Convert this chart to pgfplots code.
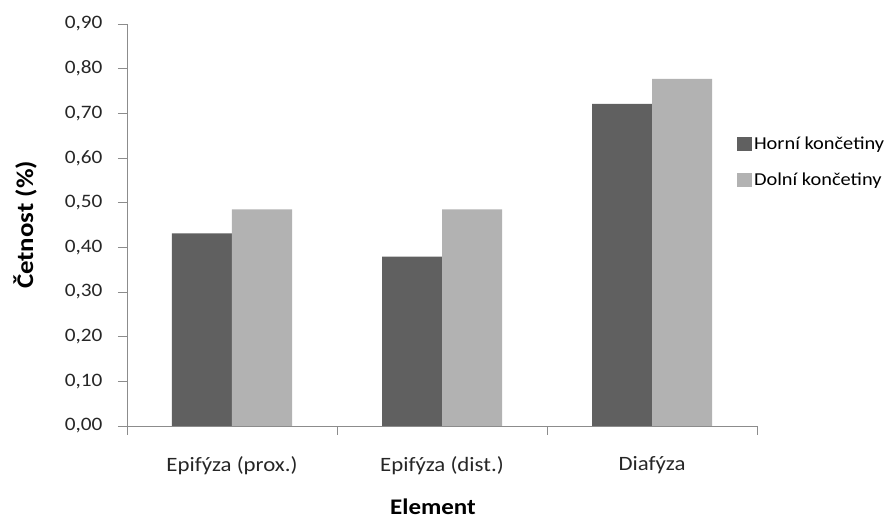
\documentclass[border=0pt]{standalone}
\usepackage{pgfplots}
\pgfplotsset{compat=1.18}
\usepackage{fontspec}
\setmainfont[FakeStretch=1.12]{Carlito}
\definecolor{horni}{HTML}{606060}
\definecolor{dolni}{HTML}{B2B2B2}
\definecolor{axisgray}{HTML}{8C8C8C}
\begin{document}
\begin{tikzpicture}
\begin{axis}[
  at={(127pt,98pt)}, anchor=south west,
  width=630pt, height=402pt, scale only axis,
  ybar=0pt, bar width=60pt,
  xmin=-0.5, xmax=2.5, ymin=0, ymax=0.9,
  axis lines*=left,
  axis line style={draw=axisgray, line width=0.8pt},
  tick style={draw=axisgray, line width=0.8pt},
  tick align=outside,
  major tick length=9pt,
  xtick={-0.5,0.5,1.5,2.5}, xticklabels={},
  extra x ticks={0,1,2},
  extra x tick labels={Epifýza (prox.),Epifýza (dist.),Diafýza},
  extra x tick style={major tick length=0pt, tick style={draw=none},
    xticklabel style={font=\fontsize{20.4}{24}\selectfont, text=black!85, yshift=-27pt}},
  ytick={0,0.1,...,0.9},
  yticklabel style={font=\fontsize{19}{22}\selectfont, text=black!85, xshift=-12pt,
    /pgf/number format/fixed, /pgf/number format/fixed zerofill,
    /pgf/number format/precision=2, /pgf/number format/use comma,
    /pgf/number format/assume math mode=true},
  ylabel={\textbf{Četnost (\%)}},
  ylabel style={font=\fontsize{24}{28}\selectfont, at={(-102pt,0.5)}, anchor=center},
  xlabel={\textbf{Element}},
  xlabel style={font=\fontsize{22.3}{26}\selectfont, at={(0.5,-81pt)}, xshift=-9pt, anchor=center},
  legend style={at={(0.968,0.657)}, anchor=west, draw=none, fill=none,
    font=\fontsize{18.2}{22}\selectfont, row sep=18pt, inner sep=0pt},
  legend image code/.code={\fill[#1] (0pt,-7pt) rectangle (15pt,7pt);},
  legend cell align=left,
  enlarge x limits=false,
]
\addplot[fill=horni, draw=none] coordinates {(0,0.431) (1,0.379) (2,0.721)};
\addplot[fill=dolni, draw=none] coordinates {(0,0.485) (1,0.485) (2,0.777)};
\legend{Horní končetiny, Dolní končetiny}
\end{axis}
\pgfresetboundingbox
\path (0,0) rectangle (892pt,524pt);
\end{tikzpicture}
\end{document}
